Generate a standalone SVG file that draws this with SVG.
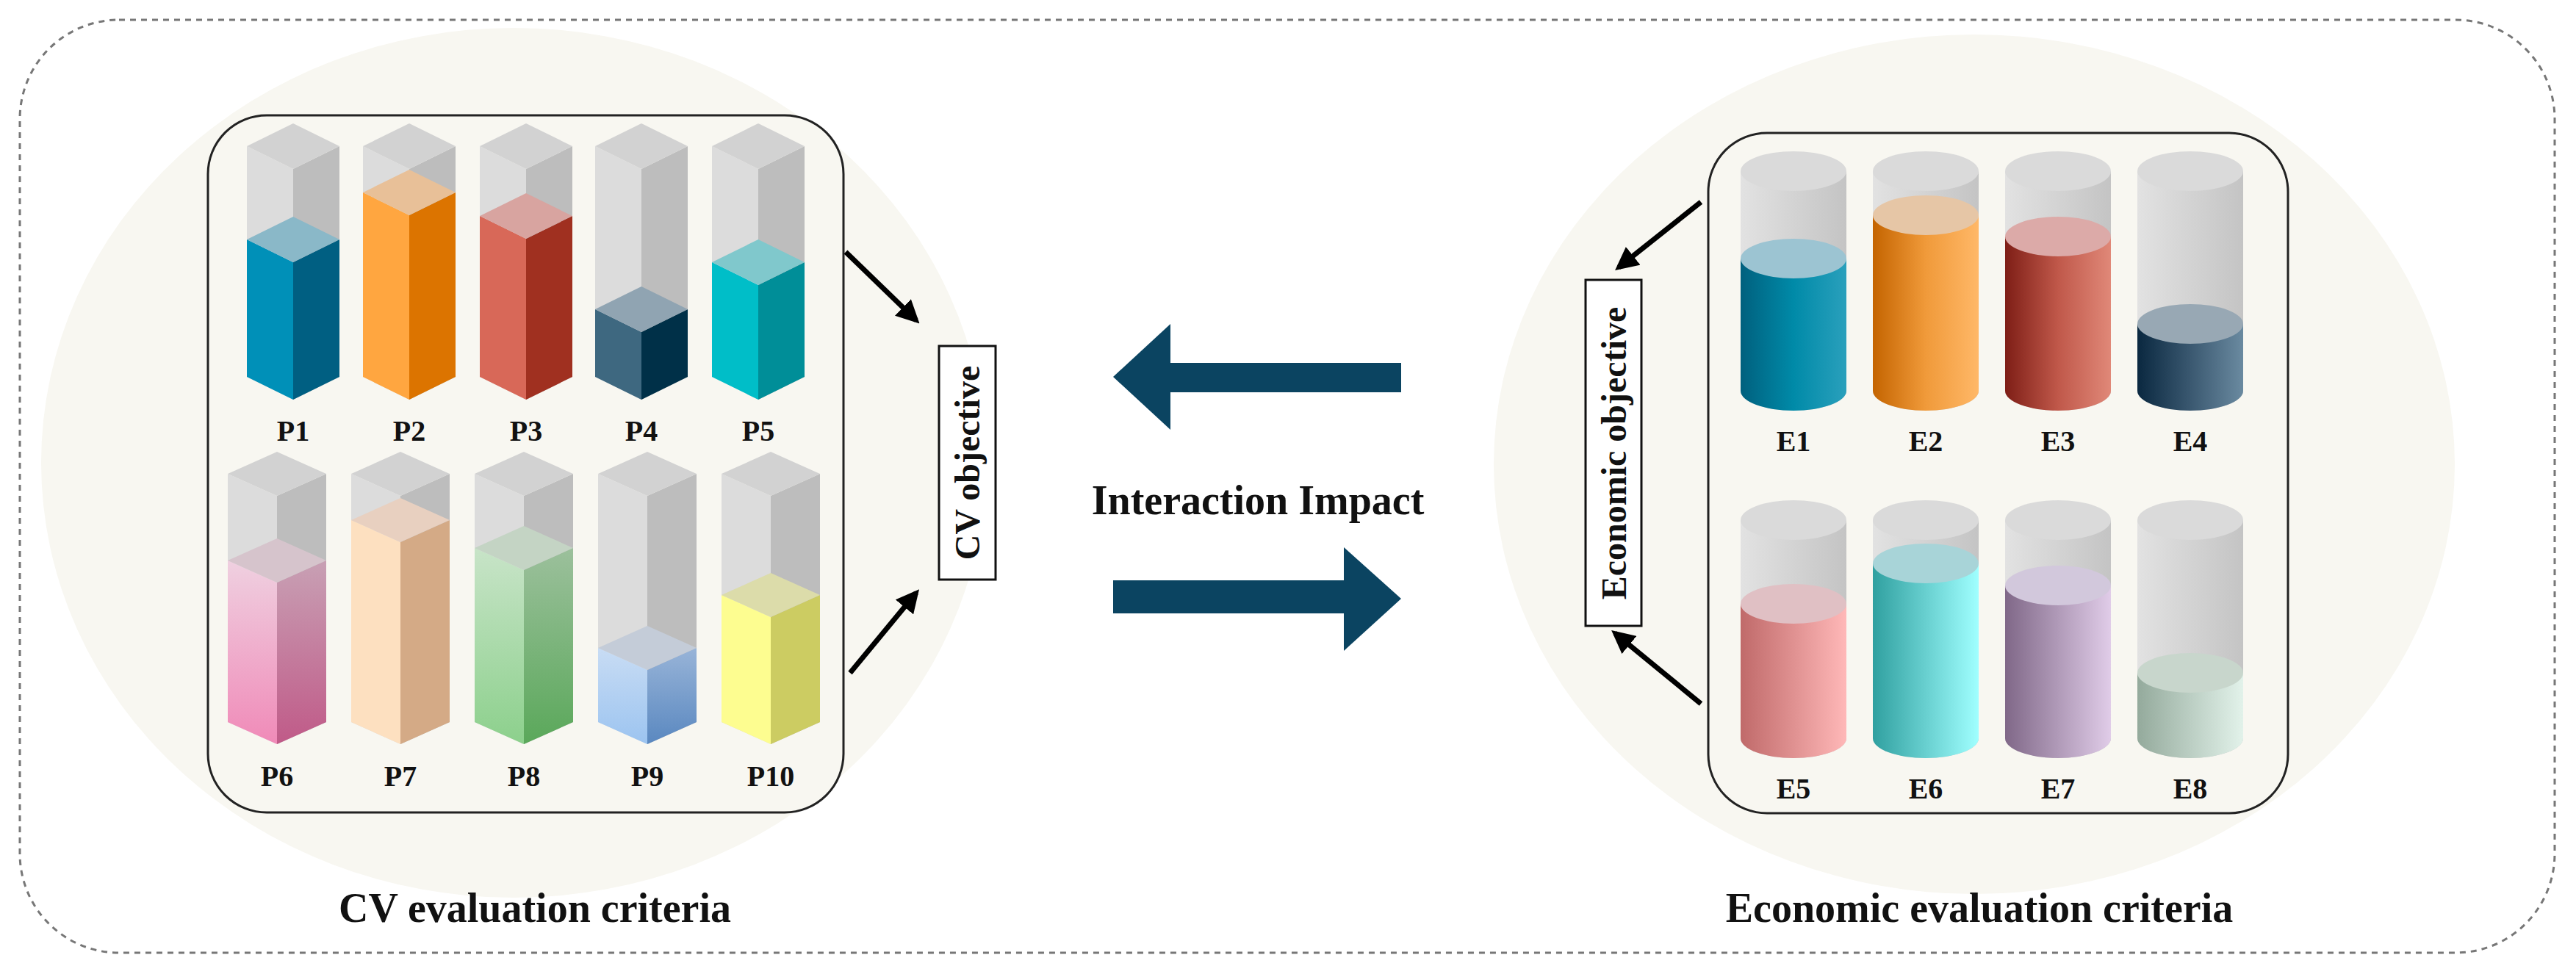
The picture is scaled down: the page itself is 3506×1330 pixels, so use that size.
<svg xmlns="http://www.w3.org/2000/svg" width="3506" height="1330" viewBox="0 0 3506 1330">
<style>
.t{font-family:"Liberation Serif","Times New Roman",serif;font-weight:bold;fill:#111}
.lb{font-size:40px;text-anchor:middle}
.big{font-size:56px;text-anchor:middle}
.gl{fill:#dcdcdc}.gr{fill:#bdbdbd}.gt{fill:#d2d2d2}
.cap{fill:#fff;opacity:.45}
.conn{stroke:#000;stroke-width:7;fill:none;marker-end:url(#ah)}
</style>
<defs>
<marker id="ah" viewBox="0 0 10 10" refX="8" refY="5" markerWidth="4.5" markerHeight="4.5" orient="auto"><path d="M0,0 L10,5 L0,10 z" fill="#000"/></marker>
<g id="g1"><polygon class="gl" points="-63,199 0,230 0,544 -63,513"/><polygon class="gr" points="0,230 63,199 63,513 0,544"/><polygon class="gt" points="0,168 63,199 0,230 -63,199"/></g>
<g id="g2"><polygon class="gl" points="-67,645 0,675 0,1013 -67,983"/><polygon class="gr" points="0,675 67,645 67,983 0,1013"/><polygon class="gt" points="0,615 67,645 0,675 -67,645"/></g>
<linearGradient id="cg" x1="0" x2="1"><stop offset="0" stop-color="#e2e2e2"/><stop offset="1" stop-color="#c4c4c4"/></linearGradient>
<g id="c1"><path d="M-72,233 V532 A72,27 0 0 0 72,532 V233 Z" fill="url(#cg)"/><ellipse cx="0" cy="233" rx="72" ry="27" fill="#dadada"/></g>
<g id="c2"><path d="M-72,708 V1005 A72,27 0 0 0 72,1005 V708 Z" fill="url(#cg)"/><ellipse cx="0" cy="708" rx="72" ry="27" fill="#dadada"/></g>
<linearGradient id="p6l" x1="0" y1="0" x2="0" y2="1"><stop offset="0" stop-color="#efd0e0"/><stop offset="1" stop-color="#f08ab8"/></linearGradient>
<linearGradient id="p6r" x1="0" y1="0" x2="0" y2="1"><stop offset="0" stop-color="#c8a0b4"/><stop offset="1" stop-color="#c05a88"/></linearGradient>
<linearGradient id="p8l" x1="0" y1="0" x2="0" y2="1"><stop offset="0" stop-color="#c8e4c8"/><stop offset="1" stop-color="#8cd08c"/></linearGradient>
<linearGradient id="p8r" x1="0" y1="0" x2="0" y2="1"><stop offset="0" stop-color="#9cc09c"/><stop offset="1" stop-color="#5aa85a"/></linearGradient>
<linearGradient id="p9l" x1="0" y1="0" x2="0" y2="1"><stop offset="0" stop-color="#c8dcf4"/><stop offset="1" stop-color="#9cc4f0"/></linearGradient>
<linearGradient id="p9r" x1="0" y1="0" x2="0" y2="1"><stop offset="0" stop-color="#98b4d8"/><stop offset="1" stop-color="#5a88c0"/></linearGradient>
<linearGradient id="e1" x1="0" x2="1"><stop offset="0" stop-color="#00607e"/><stop offset=".5" stop-color="#008aa8"/><stop offset="1" stop-color="#2aa0bc"/></linearGradient>
<linearGradient id="e2" x1="0" x2="1"><stop offset="0" stop-color="#c46400"/><stop offset=".5" stop-color="#f09a3a"/><stop offset="1" stop-color="#ffb868"/></linearGradient>
<linearGradient id="e3" x1="0" x2="1"><stop offset="0" stop-color="#7e1e16"/><stop offset=".5" stop-color="#c0584a"/><stop offset="1" stop-color="#e08878"/></linearGradient>
<linearGradient id="e4" x1="0" x2="1"><stop offset="0" stop-color="#0a2840"/><stop offset=".5" stop-color="#3a5870"/><stop offset="1" stop-color="#6a8aa0"/></linearGradient>
<linearGradient id="e5" x1="0" x2="1"><stop offset="0" stop-color="#c06a6a"/><stop offset="1" stop-color="#ffb8b8"/></linearGradient>
<linearGradient id="e6" x1="0" x2="1"><stop offset="0" stop-color="#30a0a0"/><stop offset="1" stop-color="#a0ffff"/></linearGradient>
<linearGradient id="e7" x1="0" x2="1"><stop offset="0" stop-color="#806888"/><stop offset="1" stop-color="#e0cce8"/></linearGradient>
<linearGradient id="e8" x1="0" x2="1"><stop offset="0" stop-color="#94aa9c"/><stop offset="1" stop-color="#e2f2ea"/></linearGradient>
</defs>
<rect x="0" y="0" width="3506" height="1330" fill="#fff"/>
<rect x="27" y="27" width="3450" height="1270" rx="135" fill="#fff" stroke="#777" stroke-width="3" stroke-dasharray="8,7"/>
<ellipse cx="699" cy="630" rx="643" ry="592" fill="#f8f7f1"/>
<ellipse cx="2687" cy="632" rx="654" ry="585" fill="#f8f7f1"/>

<g id="cv-panel">
<rect x="283" y="157" width="865" height="949" rx="80" fill="#f8f7f1" stroke="#222" stroke-width="3"/>
<g id="P1" transform="translate(399,0)"><use href="#g1"/><polygon fill="#0090b8" points="-63,326 0,357 0,544 -63,513"/><polygon fill="#005f82" points="0,357 63,326 63,513 0,544"/><polygon fill="#8ab8c8" points="0,295 63,326 0,357 -63,326"/></g>
<g id="P2" transform="translate(557,0)"><use href="#g1"/><polygon fill="#ffa640" points="-63,262 0,293 0,544 -63,513"/><polygon fill="#dc7400" points="0,293 63,262 63,513 0,544"/><polygon fill="#e8c098" points="0,231 63,262 0,293 -63,262"/></g>
<g id="P3" transform="translate(716,0)"><use href="#g1"/><polygon fill="#d86858" points="-63,294 0,325 0,544 -63,513"/><polygon fill="#a03020" points="0,325 63,294 63,513 0,544"/><polygon fill="#d8a4a0" points="0,263 63,294 0,325 -63,294"/></g>
<g id="P4" transform="translate(873,0)"><use href="#g1"/><polygon fill="#3e6880" points="-63,421 0,452 0,544 -63,513"/><polygon fill="#003048" points="0,452 63,421 63,513 0,544"/><polygon fill="#90a4b2" points="0,390 63,421 0,452 -63,421"/></g>
<g id="P5" transform="translate(1032,0)"><use href="#g1"/><polygon fill="#00bec8" points="-63,357 0,388 0,544 -63,513"/><polygon fill="#008e98" points="0,388 63,357 63,513 0,544"/><polygon fill="#80c8cc" points="0,326 63,357 0,388 -63,357"/></g>
<g id="P6" transform="translate(377,0)"><use href="#g2"/><polygon fill="url(#p6l)" points="-67,763 0,793 0,1013 -67,983"/><polygon fill="url(#p6r)" points="0,793 67,763 67,983 0,1013"/><polygon fill="#d6c4cc" points="0,733 67,763 0,793 -67,763"/></g>
<g id="P7" transform="translate(545,0)"><use href="#g2"/><polygon fill="#fde0c0" points="-67,708 0,738 0,1013 -67,983"/><polygon fill="#d4aa86" points="0,738 67,708 67,983 0,1013"/><polygon fill="#e8d0c0" points="0,678 67,708 0,738 -67,708"/></g>
<g id="P8" transform="translate(713,0)"><use href="#g2"/><polygon fill="url(#p8l)" points="-67,746 0,776 0,1013 -67,983"/><polygon fill="url(#p8r)" points="0,776 67,746 67,983 0,1013"/><polygon fill="#c4d4c4" points="0,716 67,746 0,776 -67,746"/></g>
<g id="P9" transform="translate(881,0)"><use href="#g2"/><polygon fill="url(#p9l)" points="-67,882 0,912 0,1013 -67,983"/><polygon fill="url(#p9r)" points="0,912 67,882 67,983 0,1013"/><polygon fill="#c4ccd8" points="0,852 67,882 0,912 -67,882"/></g>
<g id="P10" transform="translate(1049,0)"><use href="#g2"/><polygon fill="#fdfd90" points="-67,810 0,840 0,1013 -67,983"/><polygon fill="#cccc62" points="0,840 67,810 67,983 0,1013"/><polygon fill="#dcdcaa" points="0,780 67,810 0,840 -67,810"/></g>
<g class="t lb"><text x="399" y="600">P1</text><text x="557" y="600">P2</text><text x="716" y="600">P3</text><text x="873" y="600">P4</text><text x="1032" y="600">P5</text>
<text x="377" y="1070">P6</text><text x="545" y="1070">P7</text><text x="713" y="1070">P8</text><text x="881" y="1070">P9</text><text x="1049" y="1070">P10</text></g>
</g>

<g id="cv-objective">
<rect x="1278" y="471" width="77" height="318" fill="#fff" stroke="#111" stroke-width="3"/>
<text class="t" font-size="48" text-anchor="middle" transform="translate(1333,630) rotate(-90)">CV objective</text>
</g>

<g id="econ-panel">
<rect x="2325" y="181" width="789" height="926" rx="80" fill="#f8f7f1" stroke="#222" stroke-width="3"/>
<g id="E1" transform="translate(2441,0)"><use href="#c1"/><path d="M-72,352 V532 A72,27 0 0 0 72,532 V352 Z" fill="url(#e1)"/><ellipse cy="352" rx="72" ry="27" fill="#9cc4d2"/></g>
<g id="E2" transform="translate(2621,0)"><use href="#c1"/><path d="M-72,293 V532 A72,27 0 0 0 72,532 V293 Z" fill="url(#e2)"/><ellipse cy="293" rx="72" ry="27" fill="#e6c6a6"/></g>
<g id="E3" transform="translate(2801,0)"><use href="#c1"/><path d="M-72,322 V532 A72,27 0 0 0 72,532 V322 Z" fill="url(#e3)"/><ellipse cy="322" rx="72" ry="27" fill="#dcaaa8"/></g>
<g id="E4" transform="translate(2981,0)"><use href="#c1"/><path d="M-72,441 V532 A72,27 0 0 0 72,532 V441 Z" fill="url(#e4)"/><ellipse cy="441" rx="72" ry="27" fill="#98a8b4"/></g>
<g id="E5" transform="translate(2441,0)"><use href="#c2"/><path d="M-72,822 V1005 A72,27 0 0 0 72,1005 V822 Z" fill="url(#e5)"/><ellipse cy="822" rx="72" ry="27" fill="#e0c0c4"/></g>
<g id="E6" transform="translate(2621,0)"><use href="#c2"/><path d="M-72,767 V1005 A72,27 0 0 0 72,1005 V767 Z" fill="url(#e6)"/><ellipse cy="767" rx="72" ry="27" fill="#a8d4d8"/></g>
<g id="E7" transform="translate(2801,0)"><use href="#c2"/><path d="M-72,797 V1005 A72,27 0 0 0 72,1005 V797 Z" fill="url(#e7)"/><ellipse cy="797" rx="72" ry="27" fill="#d2c8dc"/></g>
<g id="E8" transform="translate(2981,0)"><use href="#c2"/><path d="M-72,916 V1005 A72,27 0 0 0 72,1005 V916 Z" fill="url(#e8)"/><ellipse cy="916" rx="72" ry="27" fill="#c8d6cc"/></g>
<g class="t lb"><text x="2441" y="614">E1</text><text x="2621" y="614">E2</text><text x="2801" y="614">E3</text><text x="2981" y="614">E4</text>
<text x="2441" y="1087">E5</text><text x="2621" y="1087">E6</text><text x="2801" y="1087">E7</text><text x="2981" y="1087">E8</text></g>
</g>

<g id="econ-objective">
<rect x="2158" y="381" width="76" height="471" fill="#fff" stroke="#111" stroke-width="3"/>
<text class="t" font-size="48" text-anchor="middle" transform="translate(2213,617) rotate(-90)">Economic objective</text>
</g>

<g id="connectors">
<line class="conn" x1="1151" y1="343" x2="1247" y2="436"/>
<line class="conn" x1="1157" y1="916" x2="1247" y2="807"/>
<line class="conn" x1="2315" y1="275" x2="2203" y2="364"/>
<line class="conn" x1="2315" y1="958" x2="2198" y2="862"/>
<polygon fill="#0b4461" points="1907,494 1593,494 1593,441 1515,513 1593,585 1593,534 1907,534"/>
<polygon fill="#0b4461" points="1515,790 1829,790 1829,745 1907,815 1829,886 1829,835 1515,835"/>
</g>

<text class="t big" x="1712" y="700" font-size="54">Interaction Impact</text>
<text class="t big" x="728" y="1255">CV evaluation criteria</text>
<text class="t big" x="2694" y="1255">Economic evaluation criteria</text>
</svg>
